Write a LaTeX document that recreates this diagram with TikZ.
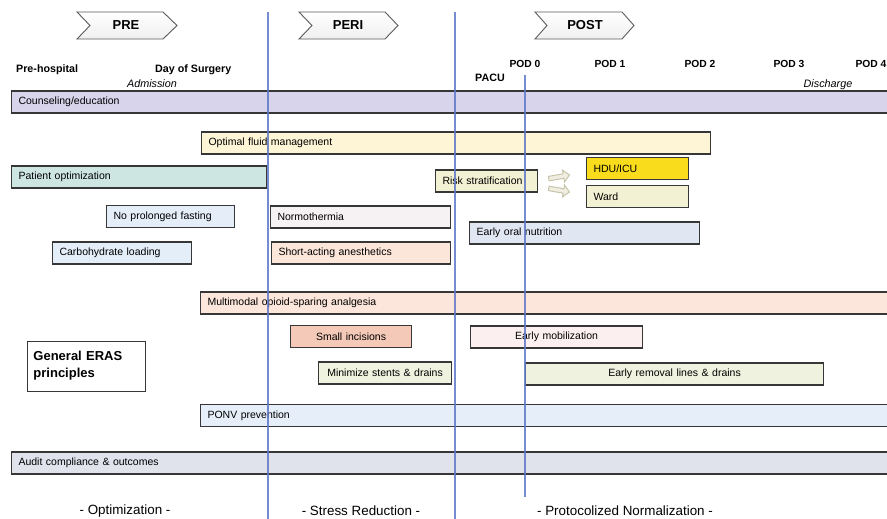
\documentclass[tikz,border=0pt]{standalone}
\usepackage{fontspec}
\setmainfont{Liberation Sans}
\usetikzlibrary{shapes.arrows}
\definecolor{bordergray}{RGB}{55,55,55}
\definecolor{eraline}{RGB}{95,120,200}
\definecolor{chevgray}{RGB}{90,90,90}
\definecolor{clav}{RGB}{216,212,236}
\definecolor{cfluid}{RGB}{253,245,214}
\definecolor{cteal}{RGB}{205,230,226}
\definecolor{crisk}{RGB}{243,241,211}
\definecolor{cicu}{RGB}{249,220,28}
\definecolor{cfast}{RGB}{229,238,248}
\definecolor{cnormo}{RGB}{246,241,243}
\definecolor{coral}{RGB}{225,230,243}
\definecolor{ccarb}{RGB}{227,238,248}
\definecolor{cshort}{RGB}{252,229,217}
\definecolor{cmulti}{RGB}{252,229,218}
\definecolor{csmall}{RGB}{244,201,183}
\definecolor{cmob}{RGB}{252,239,240}
\definecolor{cminim}{RGB}{238,242,222}
\definecolor{cponv}{RGB}{230,239,249}
\definecolor{caudit}{RGB}{224,226,236}
\definecolor{arrline}{RGB}{200,196,170}
\definecolor{arrfill}{RGB}{240,238,225}
\tikzset{
  barbox/.style={draw=bordergray, line width=1.1pt, minimum height=22pt,
    inner xsep=7pt, inner ysep=0pt, font=\fontsize{10.5}{12}\selectfont, anchor=west},
  hdr/.style={font=\bfseries\fontsize{10.7}{12}\selectfont, inner sep=0pt},
  podl/.style={font=\bfseries\fontsize{10.3}{12}\selectfont, inner sep=0pt},
  itl/.style={font=\itshape\fontsize{10.8}{12}\selectfont, inner sep=0pt},
  chev/.style={draw=chevgray, line width=0.9pt, top color=white, bottom color=gray!12},
  chevtext/.style={font=\bfseries\fontsize{13}{15}\selectfont, inner sep=0pt},
  phase/.style={font=\fontsize{13.4}{15}\selectfont, inner sep=0pt},
  vline/.style={draw=eraline, line width=1.1pt, opacity=0.85},
  flowarrow/.style={single arrow, draw=arrline, fill=arrfill, line width=1pt,
    minimum height=21pt, minimum width=12pt, single arrow head extend=2.5pt, inner sep=1pt},
}
\newcommand\erasbar[7]{%
  \pgfmathsetmacro\erasw{#3-#2}%
  \pgfmathsetmacro\erastw{#3-#2-14}%
  \node[barbox, fill=#5, minimum width=\erasw pt, text width=\erastw pt, align=#6] (#1) at (#2,#4) {#7};%
}
\begin{document}
\begin{tikzpicture}[x=1pt,y=-1pt]
\useasboundingbox (0,0) rectangle (887,519);
\clip (0,0) rectangle (887,519);
\fill[white] (0,0) rectangle (887,519);

% chevrons
\draw[chev] (77,12) -- (163,12) -- (177,25.5) -- (163,39) -- (77,39) -- (90,25.5) -- cycle;
\node[chevtext] (pre) at (126,25.5) {PRE};
\draw[chev] (299,12) -- (385,12) -- (398,25.5) -- (385,39) -- (299,39) -- (312,25.5) -- cycle;
\node[chevtext] (peri) at (348,25.5) {PERI};
\draw[chev] (535,12) -- (622,12) -- (634,25.5) -- (622,39) -- (535,39) -- (547,25.5) -- cycle;
\node[chevtext] (post) at (585,25.5) {POST};

% header labels
\node[hdr, anchor=base west] (preh) at (16,73) {Pre-hospital};
\node[hdr, anchor=base west] (dos) at (155,73) {Day of Surgery};
\node[itl, anchor=base] (adm) at (152,88) {Admission};
\node[podl, anchor=base] (pod0) at (525,68) {POD 0};
\node[podl, anchor=base] (pod1) at (610,68) {POD 1};
\node[podl, anchor=base] (pod2) at (700,68) {POD 2};
\node[podl, anchor=base] (pod3) at (789,68) {POD 3};
\node[podl, anchor=base] (pod4) at (871,68) {POD 4};
\node[hdr, anchor=base] (pacu) at (490,82) {PACU};
\node[itl, anchor=base] (dis) at (828,88) {Discharge};

% bars
\erasbar{couns}{11}{895}{102}{clav}{left}{Counseling/education}
\erasbar{fluid}{201}{710}{143}{cfluid}{left}{Optimal fluid management}
\erasbar{popt}{11}{266}{177}{cteal}{left}{Patient optimization}
\erasbar{risk}{435}{537}{181}{crisk}{left}{Risk stratification}
\erasbar{icu}{586}{688}{168.5}{cicu}{left}{HDU/ICU}
\erasbar{ward}{586}{688}{196.5}{crisk}{left}{Ward}
\erasbar{fast}{106}{234}{216.5}{cfast}{left}{No prolonged fasting}
\erasbar{normo}{270}{450}{217}{cnormo}{left}{Normothermia}
\erasbar{oral}{469}{699}{233}{coral}{left}{Early oral nutrition}
\erasbar{carb}{52}{191}{253}{ccarb}{left}{Carbohydrate loading}
\erasbar{short}{271}{450}{253}{cshort}{left}{Short-acting anesthetics}
\erasbar{multi}{200}{895}{303}{cmulti}{left}{Multimodal opioid-sparing analgesia}
\erasbar{small}{290}{411}{336.5}{csmall}{center}{Small incisions}
\erasbar{mob}{470}{642}{337}{cmob}{center}{Early mobilization}
\erasbar{minim}{318}{451}{373}{cminim}{center}{Minimize stents \& drains}
\erasbar{remov}{525}{823}{374}{cminim}{center}{Early removal lines \& drains}
\erasbar{ponv}{200}{895}{415.5}{cponv}{left}{PONV prevention}
\erasbar{audit}{11}{895}{463}{caudit}{left}{Audit compliance \& outcomes}

% General ERAS principles
\node[draw=bordergray, line width=0.9pt, fill=white, minimum width=118pt, minimum height=50pt,
  text width=106pt, inner xsep=6pt, align=left, anchor=west,
  font=\bfseries\fontsize{13}{17}\selectfont] (gen) at (27,366) {General ERAS\\principles};

% arrows from risk stratification
\node[flowarrow, rotate=10] (arrup) at (558,177) {};
\node[flowarrow, rotate=-10] (arrdn) at (558,190) {};

% vertical lines
\coordinate (l1t) at (268,12); \coordinate (l1b) at (268,519);
\coordinate (l2t) at (455,12); \coordinate (l2b) at (455,519);
\coordinate (l3t) at (525,75); \coordinate (l3b) at (525,497);
\draw[vline] (l1t) -- (l1b);
\draw[vline] (l2t) -- (l2b);
\draw[vline] (l3t) -- (l3b);

% phase labels
\node[phase] (ph1) at (125,511) {- Optimization -};
\node[phase] (ph2) at (361,511) {- Stress Reduction -};
\node[phase] (ph3) at (625,511) {- Protocolized Normalization -};
\end{tikzpicture}
\end{document}
